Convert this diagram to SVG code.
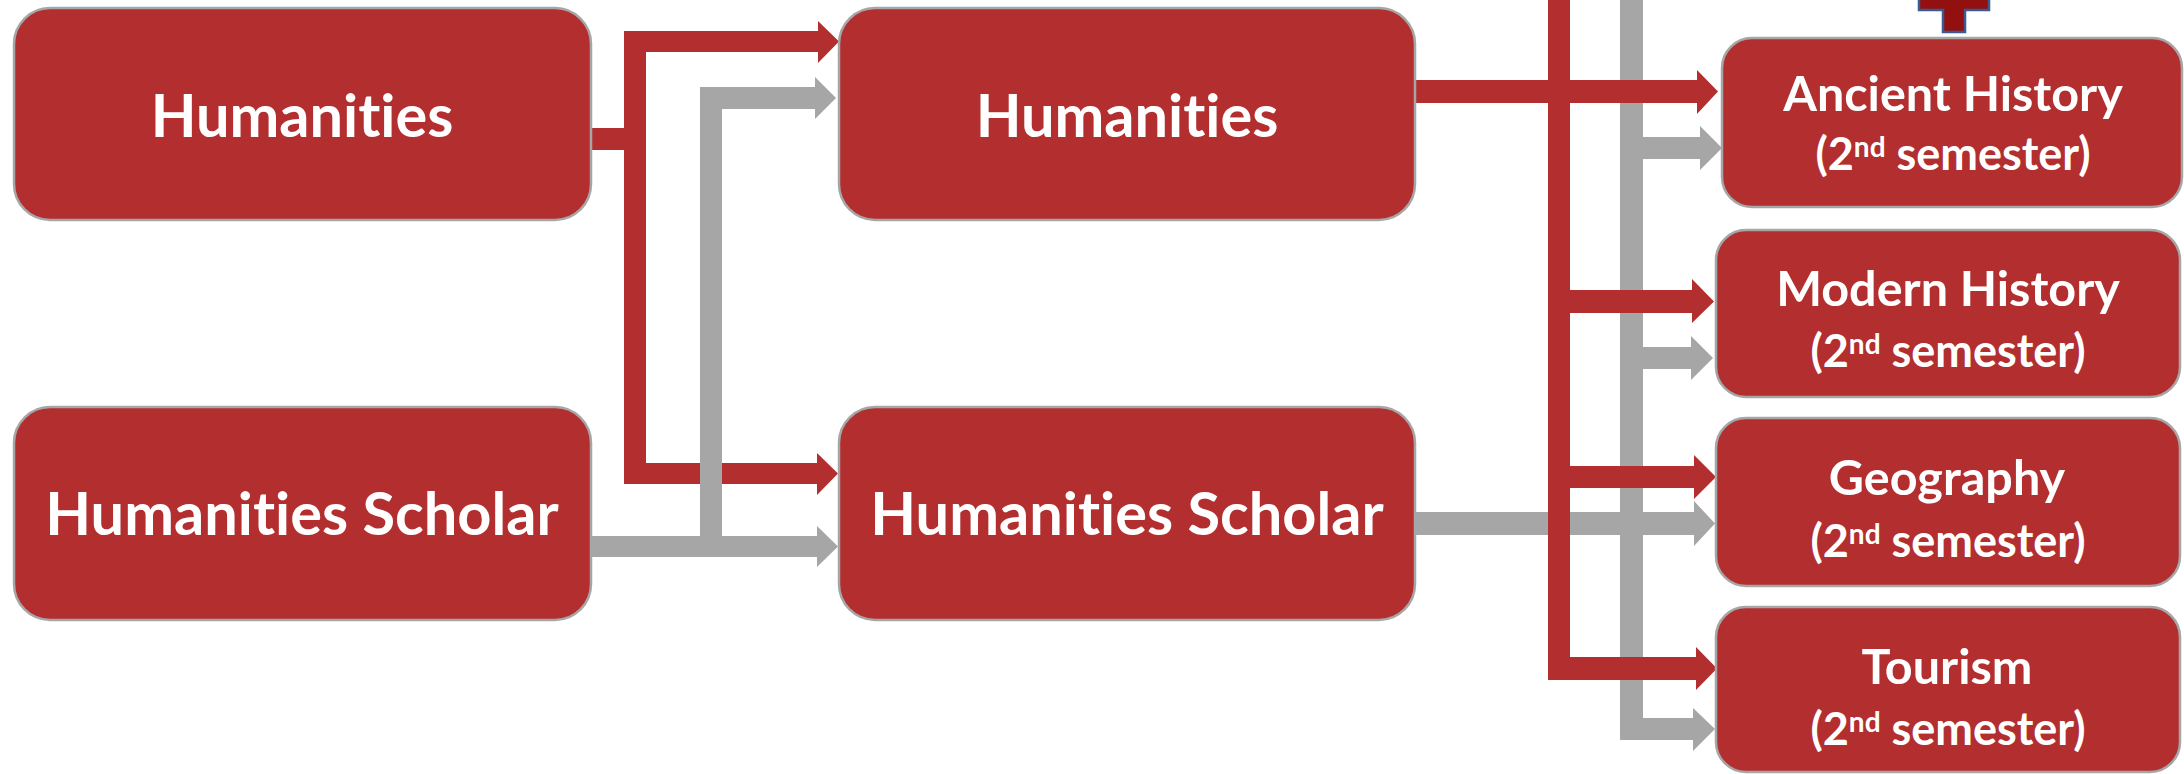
<svg xmlns="http://www.w3.org/2000/svg" width="2184" height="774" viewBox="0 0 2184 774">
<style>
.box{fill:#B32E2E;stroke:#A6A6A6;stroke-width:2.5}
.red{fill:#B32E2E}
.gray{fill:#A6A6A6}
text{font-family:Lato,"Open Sans",sans-serif;font-weight:700;fill:#FFFFFF;text-anchor:middle;font-variant-ligatures:none;font-feature-settings:"liga" 0,"clig" 0}
.big{font-size:59.5px}
.l1{font-size:48.5px}
.l2{font-size:45px}
.sup{font-size:28px}
</style>
<rect width="2184" height="774" fill="#FFFFFF"/>
<g id="connectors">
  <path class="red" d="M591,128 H624 V31 H818 V21 L839,41.5 L818,63 V52 H646 V463 H817 V453 L838,473.5 L817,495 V484 H624 V150 H591 Z"/>
  <path class="gray" d="M591,536 H700 V87 H815 V77 L836,98 L815,119 V109 H722 V536 H817 V526 L838,546.5 L817,567 V557 H591 Z"/>
  <path class="gray" d="M1620,0 H1643 V137 H1700 V126 L1722,148 L1700,170 V159 H1643 V347 H1691 V336 L1713,358 L1691,380 V369 H1643 V718 H1693 V708 L1715,729 L1693,751 V740 H1620 Z"/>
  <path class="gray" d="M1415,512 H1694 V501 L1715,523.5 L1694,546 V535 H1415 Z"/>
  <path class="red" d="M1548,0 H1570 V290 H1692 V279 L1714,301.5 L1692,323 V313 H1570 V466 H1694 V455 L1716,477 L1694,499 V488 H1570 V657 H1696 V647 L1717,668.5 L1696,690 V680 H1548 Z"/>
  <path class="red" d="M1415,80 H1697 V70 L1718,91.5 L1697,114 V103 H1415 Z"/>
  <path d="M1919,-5 H1989 V10 H1965 V32 H1943 V10 H1919 Z" fill="#921010" stroke="#3B5A94" stroke-width="2.5"/>
</g>
<g id="node-humanities-left">
  <rect class="box" x="14" y="8" width="577" height="212" rx="36" ry="36"/>
  <text class="big" x="302" y="137">Humanities</text>
</g>
<g id="node-scholar-left">
  <rect class="box" x="14" y="407" width="577" height="213" rx="36" ry="36"/>
  <text class="big" x="302" y="535">Humanities Scholar</text>
</g>
<g id="node-humanities-mid">
  <rect class="box" x="839" y="8" width="576" height="212" rx="36" ry="36"/>
  <text class="big" x="1127" y="137">Humanities</text>
</g>
<g id="node-scholar-mid">
  <rect class="box" x="839" y="407" width="576" height="213" rx="36" ry="36"/>
  <text class="big" x="1127" y="535">Humanities Scholar</text>
</g>
<g id="node-ancient-history">
  <rect class="box" x="1722" y="38" width="460" height="169" rx="30" ry="30"/>
  <text class="l1" x="1953" y="111">Ancient History</text>
  <text class="l2" x="1953" y="170">(2<tspan class="sup" dy="-13">nd</tspan><tspan dy="13"> semester)</tspan></text>
</g>
<g id="node-modern-history">
  <rect class="box" x="1716" y="230" width="464" height="167" rx="30" ry="30"/>
  <text class="l1" x="1948" y="306">Modern History</text>
  <text class="l2" x="1948" y="367">(2<tspan class="sup" dy="-13">nd</tspan><tspan dy="13"> semester)</tspan></text>
</g>
<g id="node-geography">
  <rect class="box" x="1716" y="418" width="464" height="168" rx="30" ry="30"/>
  <text class="l1" x="1947" y="495">Geography</text>
  <text class="l2" x="1948" y="557">(2<tspan class="sup" dy="-13">nd</tspan><tspan dy="13"> semester)</tspan></text>
</g>
<g id="node-tourism">
  <rect class="box" x="1716" y="607" width="464" height="165" rx="30" ry="30"/>
  <text class="l1" x="1947" y="684">Tourism</text>
  <text class="l2" x="1948" y="745">(2<tspan class="sup" dy="-13">nd</tspan><tspan dy="13"> semester)</tspan></text>
</g>
</svg>
